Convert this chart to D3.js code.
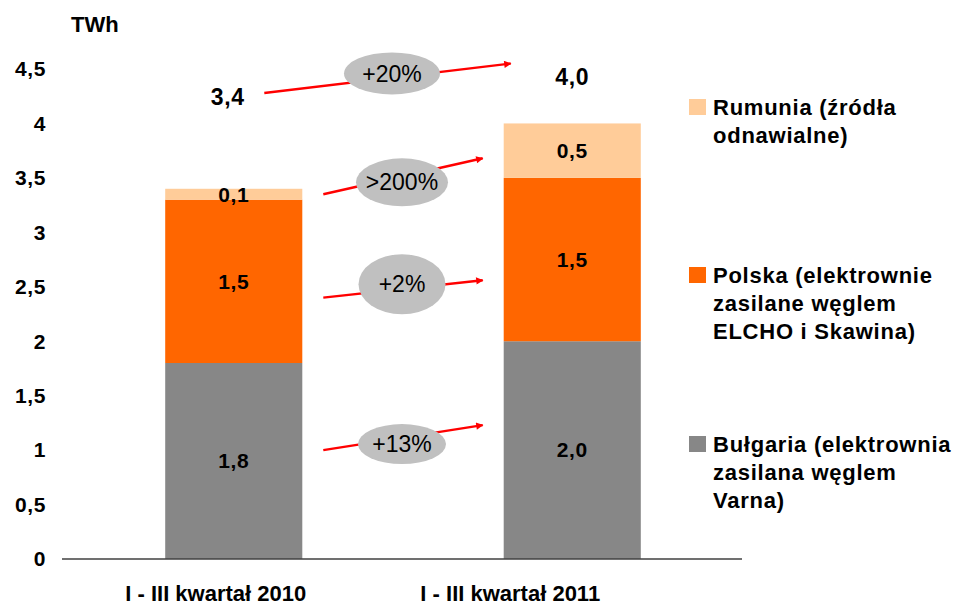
<!DOCTYPE html>
<html><head><meta charset="utf-8">
<script src="https://cdn.jsdelivr.net/npm/d3@7"></script>
<style>body{margin:0;background:#fff}svg{display:block}text{font-family:"Liberation Sans",Arial,sans-serif}</style>
</head><body><svg id="c" width="953" height="609"></svg>
<script>
// ---- data ----
const categories = ["I - III kwartał 2010", "I - III kwartał 2011"];
const bulgaria = [1.8, 2.0];
const polska = [1.5, 1.5];
const rumunia = [0.1, 0.5];
const seriesKeys = ["bulgaria", "polska", "rumunia"];
const seriesColors = ["#878787", "#FF6600", "#FFCC99"];
const legendLines = [
  ["Rumunia (źródła", "odnawialne)"],
  ["Polska (elektrownie", "zasilane węglem", "ELCHO i Skawina)"],
  ["Bułgaria (elektrownia", "zasilana węglem", "Varna)"]
];
const yTicks = [0, 0.5, 1, 1.5, 2, 2.5, 3, 3.5, 4, 4.5];
const unitLabel = "TWh";
const growthLabels = ["+13%", "+2%", ">200%", "+20%"];
const growthFrom = [1.0, 2.4, 3.35, 4.28];   // arrow start level (TWh)
const growthTo = [1.23, 2.56, 3.68, 4.55];   // arrow end level (TWh)
const bubbleLevel = [1.055, 2.523, 3.459, 4.459];
const totalLabelLevel = [4.24, 4.43];

// ---- setup ----
const svg = d3.select("#c");
const loc = d3.formatLocale({decimal: ",", thousands: " ", grouping: [3], currency: ["", ""]});
const fmt1 = loc.format(".1f"), fmtTick = loc.format(".1~f");

const y = d3.scaleLinear().domain([0, 4.5]).range([559, 69]);
const x = d3.scaleBand().domain(categories).range([64.5, 741.5]);
const bw = x.bandwidth() * 0.405;
const cx = c => x(c) + x.bandwidth() / 2;

const rows = categories.map((c, i) => ({cat: c, bulgaria: bulgaria[i], polska: polska[i], rumunia: rumunia[i]}));
const stack = d3.stack().keys(seriesKeys)(rows);

// y tick labels
svg.append("g").selectAll("text").data(yTicks).join("text")
  .attr("x", 46).attr("y", d => y(d)).attr("dy", "0.35em")
  .attr("text-anchor", "end").attr("font-size", 21).attr("font-weight", "bold")
  .attr("letter-spacing", 0.6)
  .text(d => fmtTick(d));
svg.append("text").attr("x", 71).attr("y", 32).attr("font-size", 22).attr("font-weight", "bold").text(unitLabel);

// bars
stack.forEach((s, si) => {
  svg.append("g").selectAll("rect").data(s).join("rect")
    .attr("x", d => cx(d.data.cat) - bw / 2).attr("width", bw)
    .attr("y", d => y(d[1])).attr("height", d => y(d[0]) - y(d[1]))
    .attr("fill", seriesColors[si]);
  svg.append("g").selectAll("text").data(s).join("text")
    .attr("x", d => cx(d.data.cat)).attr("y", d => (y(d[0]) + y(d[1])) / 2).attr("dy", "0.35em")
    .attr("text-anchor", "middle").attr("font-size", 21).attr("font-weight", "bold")
    .attr("letter-spacing", 0.6)
    .text(d => fmt1(d[1] - d[0]));
});

// axis line
svg.append("line").attr("x1", 62).attr("x2", 742).attr("y1", y(0)).attr("y2", y(0))
  .attr("stroke", "#404040").attr("stroke-width", 1.5);

// category labels
const catDx = [-18, -62];
svg.append("g").selectAll("text").data(categories).join("text")
  .attr("x", (d, i) => cx(d) + catDx[i]).attr("y", 601)
  .attr("text-anchor", "middle").attr("font-size", 22).attr("font-weight", "bold")
  .text(d => d);

// totals
svg.append("g").selectAll("text").data(categories).join("text")
  .attr("x", (d, i) => cx(d) - 6 + i * 6).attr("y", (d, i) => y(totalLabelLevel[i])).attr("dy", "0.35em")
  .attr("text-anchor", "middle").attr("font-size", 23).attr("font-weight", "bold")
  .attr("letter-spacing", 0.6)
  .text((d, i) => fmt1(bulgaria[i] + polska[i] + rumunia[i]));

// growth arrows
svg.append("defs").append("marker").attr("id", "ah")
  .attr("viewBox", "0 0 10 10").attr("refX", 9).attr("refY", 5)
  .attr("markerWidth", 4).attr("markerHeight", 3).attr("orient", "auto")
  .attr("markerUnits", "strokeWidth")
  .append("path").attr("d", "M0,0L10,5L0,10z").attr("fill", "#FF0000");

const x1r = cx(categories[0]) + bw / 2, x2l = cx(categories[1]) - bw / 2;
const g = svg.append("g");
growthLabels.forEach((lab, i) => {
  const top = i === 3;
  const xs = top ? x1r - 38 : x1r + 21;
  const xe = top ? x2l + 7 : x2l - 21;
  g.append("line").attr("x1", xs).attr("y1", y(growthFrom[i])).attr("x2", xe).attr("y2", y(growthTo[i]))
    .attr("stroke", "#FF0000").attr("stroke-width", 2.4).attr("marker-end", "url(#ah)");
  const ex = top ? 392 : (x1r + x2l) / 2 - 1;
  const rx = [44, 43.5, 46, 48][i], ry = [20, 30, 24, 21][i];
  g.append("ellipse").attr("cx", ex).attr("cy", y(bubbleLevel[i])).attr("rx", rx).attr("ry", ry).attr("fill", "#C0C0C0");
  g.append("text").attr("x", ex).attr("y", y(bubbleLevel[i])).attr("dy", "0.35em")
    .attr("text-anchor", "middle").attr("font-size", 23).text(lab);
});

// legend
const legendTop = [99, 267, 436];
const lg = svg.append("g");
[2, 1, 0].forEach((si, li) => {
  const t = legendTop[li];
  lg.append("rect").attr("x", 689).attr("y", t).attr("width", 17).attr("height", 16).attr("fill", seriesColors[si]);
  lg.append("text").attr("x", 713).attr("font-size", 22).attr("font-weight", "bold")
    .attr("letter-spacing", 0.75)
    .selectAll("tspan").data(legendLines[li]).join("tspan")
    .attr("x", 713).attr("y", (d, k) => t + 16 + k * 28).text(d => d);
});
</script></body></html>
